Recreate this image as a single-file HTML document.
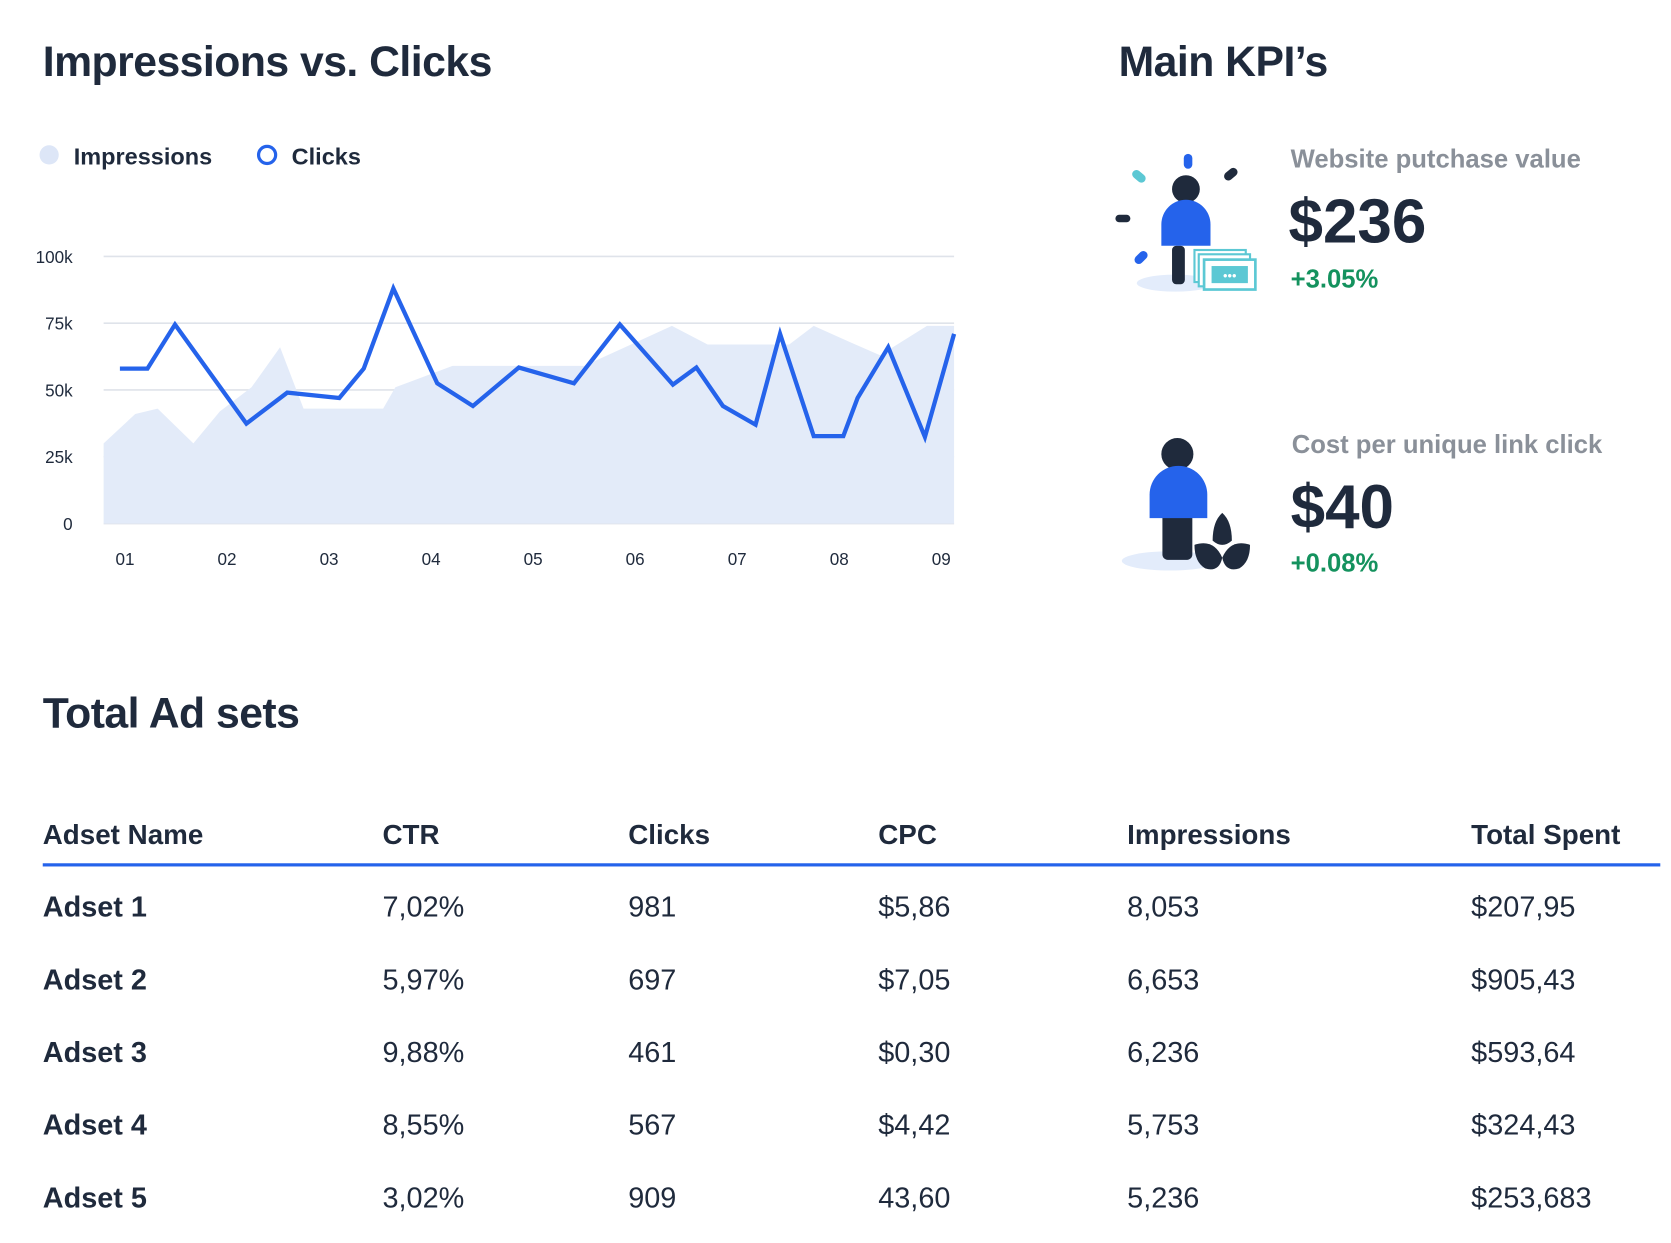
<!DOCTYPE html>
<html><head><meta charset="utf-8"><style>
html,body{margin:0;padding:0;background:#fff;overflow:hidden}
body{width:1671px;height:1243px}
#wrap{position:absolute;left:0;top:0;width:1564px;height:1163px;transform:scale(1.0684);transform-origin:0 0;font-family:"Liberation Sans",sans-serif;color:#1f2a3c}
.t{position:absolute;white-space:nowrap}
.h1{font-size:40px;font-weight:bold;letter-spacing:-0.5px}
.th{font-size:26px;font-weight:bold;top:766px}
.td{font-size:27px;top:0}
</style></head><body>
<div id="wrap">
<div class="t h1" style="left:40px;top:36px">Impressions vs. Clicks</div>
<div class="t h1" style="left:1047px;top:36px">Main KPI’s</div>
<div class="t h1" style="left:40px;top:646px">Total Ad sets</div>

<svg id="chart" style="position:absolute;left:0;top:0" width="960" height="560">
<circle cx="46" cy="145" r="9" fill="#dde6f7"/>
<text x="69" y="154" font-size="22" font-weight="bold" fill="#1f2a3c" font-family="Liberation Sans">Impressions</text>
<circle cx="250" cy="145" r="8" fill="none" stroke="#2563eb" stroke-width="3"/>
<text x="273" y="154" font-size="22" font-weight="bold" fill="#1f2a3c" font-family="Liberation Sans">Clicks</text>
<g id="grid"></g><path id="area"></path><path id="line"></path><g id="xt"></g>
</svg>

<svg style="position:absolute;left:1030px;top:130px" width="170" height="420">
<g>
<ellipse cx="70" cy="135" rx="36" ry="8" fill="#e3ecfb"/>
<rect x="78" y="14" width="8" height="14" rx="4" fill="#2563eb"/>
<rect x="32" y="28" width="8" height="14" rx="4" fill="#5cc8d4" transform="rotate(-50 36 35)"/>
<rect x="118" y="26" width="8" height="14" rx="4" fill="#1f2a3c" transform="rotate(50 122 33)"/>
<rect x="14" y="71" width="14" height="7" rx="3.5" fill="#1f2a3c"/>
<rect x="34" y="104" width="8" height="14" rx="4" fill="#2563eb" transform="rotate(45 38 111)"/>
<circle cx="80" cy="47" r="13" fill="#1f2a3c"/>
<rect x="67" y="100" width="12" height="36" rx="4" fill="#1f2a3c"/>
<path d="M57 100 V80 a23 23 0 0 1 46 0 V100 Z" fill="#2563eb"/>
<rect x="88" y="104" width="48" height="30" fill="#fff" stroke="#5cc8d4" stroke-width="2"/>
<rect x="92" y="108" width="48" height="30" fill="#fff" stroke="#5cc8d4" stroke-width="2"/>
<rect x="97" y="113" width="48" height="28" fill="#fff" stroke="#5cc8d4" stroke-width="2.5"/>
<rect x="104" y="119" width="34" height="16" fill="#5cc8d4"/>
<text x="121" y="132" font-size="12" fill="#fff" text-anchor="middle" font-family="Liberation Sans">•••</text>
</g>
<g>
<ellipse cx="65" cy="395" rx="45" ry="9" fill="#e3ecfb"/>
<circle cx="72" cy="295" r="15" fill="#1f2a3c"/>
<rect x="58" y="350" width="28" height="44" rx="5" fill="#1f2a3c"/>
<path d="M46 355 V333 a26 26 0 0 1 54 0 V355 Z" fill="#2563eb"/>
<path d="M105 376 q0-18 9-26 q9 8 9 26 q-9 8-18 0Z" fill="#1f2a3c"/>
<path d="M88 380 q18-6 26 12 q-3 14-16 10 q-10-6-10-22Z" fill="#1f2a3c"/>
<path d="M140 380 q-18-6-26 12 q3 14 16 10 q10-6 10-22Z" fill="#1f2a3c"/>
</g>
</svg>

<div class="t" style="left:1208px;top:136px;font-size:24px;font-weight:bold;color:#8a9099">Website putchase value</div>
<div class="t" style="left:1206px;top:174px;font-size:58px;font-weight:bold">$236</div>
<div class="t" style="left:1208px;top:248px;font-size:24px;font-weight:bold;color:#14925e">+3.05%</div>
<div class="t" style="left:1209px;top:403px;font-size:24px;font-weight:bold;color:#8a9099">Cost per unique link click</div>
<div class="t" style="left:1208px;top:441px;font-size:58px;font-weight:bold">$40</div>
<div class="t" style="left:1208px;top:514px;font-size:24px;font-weight:bold;color:#14925e">+0.08%</div>

<div id="table">
<div class="t th" style="left:40px">Adset Name</div>
<div class="t th" style="left:358px">CTR</div>
<div class="t th" style="left:588px">Clicks</div>
<div class="t th" style="left:822px">CPC</div>
<div class="t th" style="left:1055px">Impressions</div>
<div class="t th" style="left:1377px">Total Spent</div>
<div style="position:absolute;left:40px;top:808px;width:1514px;height:3px;background:#2563eb"></div>
</div>
</div>
<script>
const yTicks=[0,25,50,75,100];
const yTickLabels=["0","25k","50k","75k","100k"];
const xTicks=[1,2,3,4,5,6,7,8,9];
const xTickLabels=["01","02","03","04","05","06","07","08","09"];
const impDays=[0.79,1.10,1.32,1.67,1.93,2.24,2.52,2.75,3.53,3.65,4.21,5.50,6.36,6.71,7.51,7.75,8.10,8.40,8.86,9.16];
const impValues=[30,41,43,30,42,51,66,43,43,51,59,59,74,67,67,74,68,63,74,74];
const clickDays=[0.95,1.22,1.49,2.19,2.59,3.10,3.34,3.63,4.06,4.41,4.86,5.40,5.85,6.37,6.60,6.86,7.18,7.42,7.75,8.04,8.18,8.48,8.84,9.15];
const clickValues=[58,58,74.5,37.4,49,47,58,88,52.5,44,58.4,52.5,74.5,52,58.4,44,37,71,32.7,32.7,47,66,32.4,71];
const tableRows=[["Adset 1","7,02%","981","$5,86","8,053","$207,95"],["Adset 2","5,97%","697","$7,05","6,653","$905,43"],["Adset 3","9,88%","461","$0,30","6,236","$593,64"],["Adset 4","8,55%","567","$4,42","5,753","$324,43"],["Adset 5","3,02%","909","43,60","5,236","$253,683"]];
const L=97,R=893,Y0=490,Y1=240;
const xs=d=>Math.min(R,Math.max(L,117+(d-1)*95.5));
const ys=v=>Y0-(v/100)*(Y0-Y1);
const NS="http://www.w3.org/2000/svg";
const g=document.getElementById('grid');
yTicks.forEach((t,i)=>{
 const ln=document.createElementNS(NS,'line');
 ln.setAttribute('x1',L);ln.setAttribute('x2',R);ln.setAttribute('y1',ys(t));ln.setAttribute('y2',ys(t));
 ln.setAttribute('stroke','#dfe3ea');ln.setAttribute('stroke-width','1.5');
 
 
 g.appendChild(ln);
 const tx=document.createElementNS(NS,'text');
 tx.setAttribute('x',68);tx.setAttribute('y',ys(t)+6);tx.setAttribute('text-anchor','end');
 tx.setAttribute('font-size','16');tx.setAttribute('fill','#1f2a3c');tx.setAttribute('font-family','Liberation Sans');
 tx.textContent=yTickLabels[i];
 
 
 g.appendChild(tx);
});
const xt=document.getElementById('xt');
xTicks.forEach((t,i)=>{
 const tx=document.createElementNS(NS,'text');
 tx.setAttribute('x',117+(t-1)*95.5);tx.setAttribute('y',529);tx.setAttribute('text-anchor','middle');
 tx.setAttribute('font-size','16');tx.setAttribute('fill','#1f2a3c');tx.setAttribute('font-family','Liberation Sans');
 tx.textContent=xTickLabels[i];
 
 
 xt.appendChild(tx);
});
let a='M'+L+' '+Y0;
impDays.forEach((d,i)=>{a+=' L'+xs(d)+' '+ys(impValues[i]);});
a+=' L'+R+' '+Y0+' Z';
const area=document.getElementById('area');
area.setAttribute('d',a);area.setAttribute('fill','#e3ebf9');


let p='';
clickDays.forEach((d,i)=>{p+=(i?' L':'M')+xs(d)+' '+ys(clickValues[i]);});
const line=document.getElementById('line');
line.setAttribute('d',p);line.setAttribute('fill','none');line.setAttribute('stroke','#2563eb');
line.setAttribute('stroke-width','4');line.setAttribute('stroke-linejoin','miter');


const cols=[40,358,588,822,1055,1377];
const tb=document.getElementById('table');
tableRows.forEach((r,ri)=>{
 r.forEach((c,ci)=>{
  const d=document.createElement('div');
  d.className='t td';
  d.style.left=cols[ci]+'px';d.style.top=(834+ri*68)+'px';
  if(ci===0)d.style.fontWeight='bold';
  d.textContent=c;
  
  
  tb.appendChild(d);
 });
});
</script>
</body></html>
